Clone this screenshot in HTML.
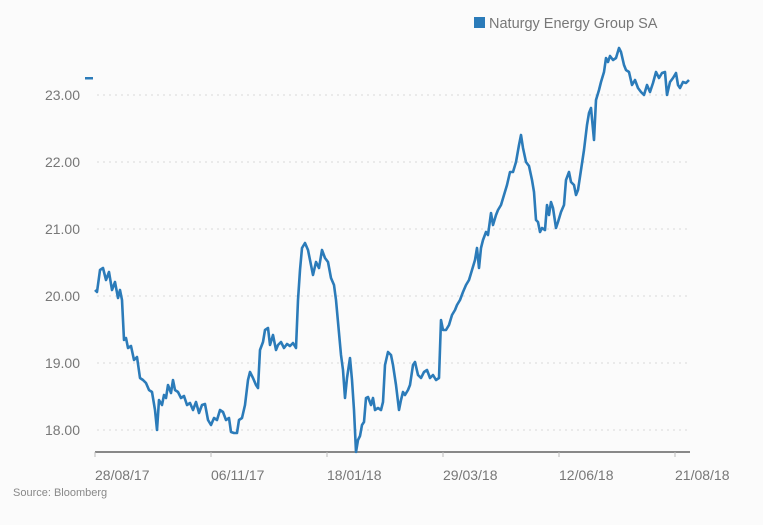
<!DOCTYPE html>
<html><head><style>
body{margin:0;background:#fbfbfb;}
svg{display:block;font-family:"Liberation Sans",sans-serif;}
</style></head><body>
<svg width="763" height="525" viewBox="0 0 763 525">
<rect width="763" height="525" fill="#fbfbfb"/>
<g stroke="#d8d8d8" stroke-dasharray="2,4" stroke-width="1">
<line x1="97" y1="95" x2="690" y2="95"/>
<line x1="97" y1="162" x2="690" y2="162"/>
<line x1="97" y1="229" x2="690" y2="229"/>
<line x1="97" y1="296" x2="690" y2="296"/>
<line x1="97" y1="363" x2="690" y2="363"/>
<line x1="97" y1="430" x2="690" y2="430"/>
</g>
<g fill="#777" font-size="14" text-anchor="end">
<text x="80" y="100">23.00</text>
<text x="80" y="167">22.00</text>
<text x="80" y="234">21.00</text>
<text x="80" y="301">20.00</text>
<text x="80" y="368">19.00</text>
<text x="80" y="435">18.00</text>
</g>
<rect x="85" y="77" width="8" height="2.5" fill="#2b7bb9"/>
<line x1="95" y1="452" x2="690" y2="452" stroke="#888" stroke-width="2"/>
<g stroke="#bbb"><line x1="95" y1="452" x2="95" y2="457"/><line x1="211" y1="452" x2="211" y2="457"/><line x1="327" y1="452" x2="327" y2="457"/><line x1="443" y1="452" x2="443" y2="457"/><line x1="559" y1="452" x2="559" y2="457"/><line x1="675" y1="452" x2="675" y2="457"/></g>
<g fill="#777" font-size="14">
<text x="95" y="480">28/08/17</text>
<text x="211" y="480">06/11/17</text>
<text x="327" y="480">18/01/18</text>
<text x="443" y="480">29/03/18</text>
<text x="559" y="480">12/06/18</text>
<text x="675" y="480">21/08/18</text>
</g>
<text x="13" y="496" fill="#888" font-size="11">Source: Bloomberg</text>
<rect x="474" y="17" width="11" height="11" fill="#2b7bb9"/>
<text x="489" y="28" fill="#777" font-size="14.5">Naturgy Energy Group SA</text>
<polyline fill="none" stroke="#2b7bb9" stroke-width="2.6" stroke-linejoin="round" points="95,290 97,292 100,270 103,268 106,280 109,272 112,290 115,282 118,298 120,290 122,300 124,340 126,338 128,348 131,346 134,360 137,357 140,378 143,380 146,383 149,390 152,392 155,410 157,430 159,400 162,405 164,395 166,398 168,385 171,393 173,380 175,390 178,392 181,398 184,396 187,405 190,403 193,410 196,402 199,413 202,405 205,404 208,420 211,425 214,418 217,420 220,410 223,412 226,420 229,418 231,432 234,433 237,433 239,420 242,418 245,405 248,380 250,372 253,378 256,385 258,388 260,350 263,342 265,330 268,328 270,345 273,335 276,350 278,345 281,342 284,348 287,344 290,346 293,343 296,348 298,300 300,270 302,248 305,243 308,250 311,265 313,275 316,262 319,268 322,250 325,258 328,262 331,278 334,285 336,300 338,322 341,355 343,370 345,398 347,378 350,358 352,380 354,410 356,452 358,440 360,436 362,425 364,422 366,398 368,397 371,405 373,398 375,410 378,408 381,410 383,402 385,365 388,352 391,355 393,365 396,385 399,410 401,400 403,392 405,395 408,390 410,385 413,365 415,362 418,375 421,378 424,372 427,370 430,378 433,375 436,380 439,378 441,320 443,330 446,330 449,325 452,315 455,310 457,305 460,300 463,292 466,285 469,280 472,270 475,260 477,248 479,268 481,248 483,240 486,232 488,235 491,213 493,225 496,215 498,210 501,205 504,195 507,185 510,172 513,172 516,162 519,145 521,135 523,148 526,162 529,166 532,180 534,192 536,220 538,222 540,232 542,228 545,230 547,205 549,215 551,202 553,208 556,228 558,222 561,212 564,205 566,180 569,172 571,182 574,185 576,195 578,190 581,170 584,150 587,125 589,113 591,108 594,140 596,100 599,90 601,82 604,72 606,58 608,62 610,56 613,60 616,58 619,48 621,52 624,65 626,70 629,72 632,85 635,80 638,88 641,92 644,95 647,85 650,92 653,83 656,72 659,78 662,73 665,72 667,95 670,82 673,78 676,73 678,85 680,88 683,82 686,83 689,80"/>
</svg>
</body></html>
